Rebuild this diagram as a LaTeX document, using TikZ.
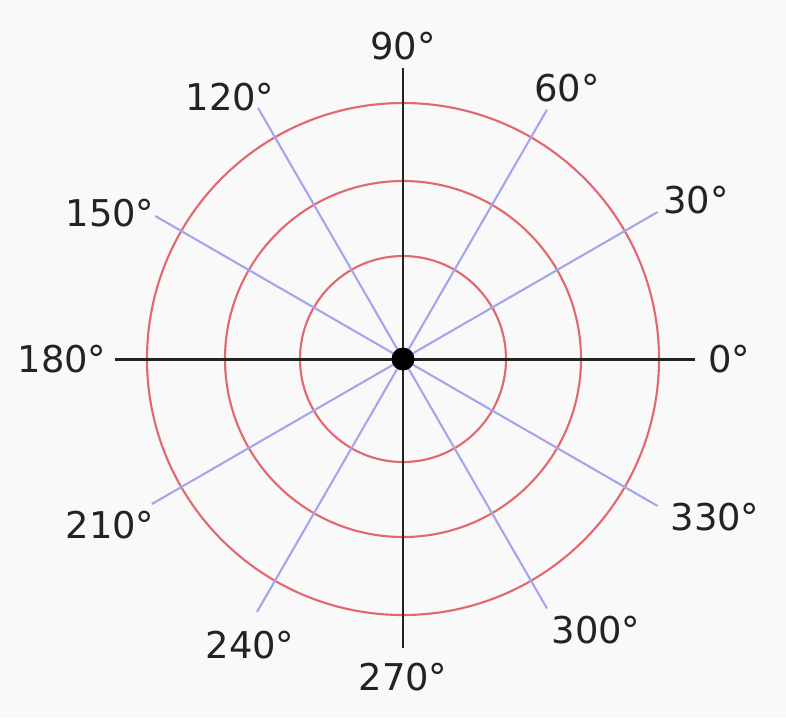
\documentclass[tikz,border=0pt]{standalone}
\usepackage{fontspec}
\setmainfont{DejaVu Sans}
\definecolor{ringred}{RGB}{226,104,112}
\definecolor{rayblue}{RGB}{165,165,236}
\definecolor{axisgray}{RGB}{35,35,35}
\definecolor{paper}{RGB}{249,249,249}
\tikzset{
	ring/.style={ringred, line width=0.6pt},
	ray/.style={rayblue, line width=0.6pt},
	axisline/.style={axisgray, line width=0.85pt},
	anglabel/.style={text=axisgray, inner sep=0pt, font=\fontsize{10.5}{12}\selectfont}
}
\begin{document}
\begin{tikzpicture}
	\fill[paper] (-4.03,-3.59) rectangle (3.83,3.59);
	\useasboundingbox (-4.03,-3.59) rectangle (3.83,3.59);
	\coordinate (o) at (0,0);
	\foreach \r in {1.03, 1.78, 2.56}
		\draw[ring] (o) circle (\r);
	\foreach \a/\r in {30/2.94, 60/2.88, 120/2.9, 150/2.86, 210/2.9, 240/2.92, 300/2.88, 330/2.94}
		\draw[ray] (o) -- (\a:\r);
	\draw[axisline] (-2.88,0) -- (2.92,0);
	\draw[axisline] (0,-2.89) -- (0,2.91);
	\fill[black] (o) circle (0.115);
	\node[anglabel] (l0) at (3.26,0) {0°};
	\node[anglabel] (l30) at (2.93,1.59) {30°};
	\node[anglabel] (l60) at (1.64,2.71) {60°};
	\node[anglabel] (l90) at (0,3.13) {90°};
	\node[anglabel] (l120) at (-1.73,2.62) {120°};
	\node[anglabel] (l150) at (-2.93,1.46) {150°};
	\node[anglabel] (l180) at (-3.41,0) {180°};
	\node[anglabel] (l210) at (-2.93,-1.66) {210°};
	\node[anglabel] (l240) at (-1.53,-2.86) {240°};
	\node[anglabel] (l270) at (0,-3.18) {270°};
	\node[anglabel] (l300) at (1.93,-2.71) {300°};
	\node[anglabel] (l330) at (3.12,-1.58) {330°};
\end{tikzpicture}
\end{document}
